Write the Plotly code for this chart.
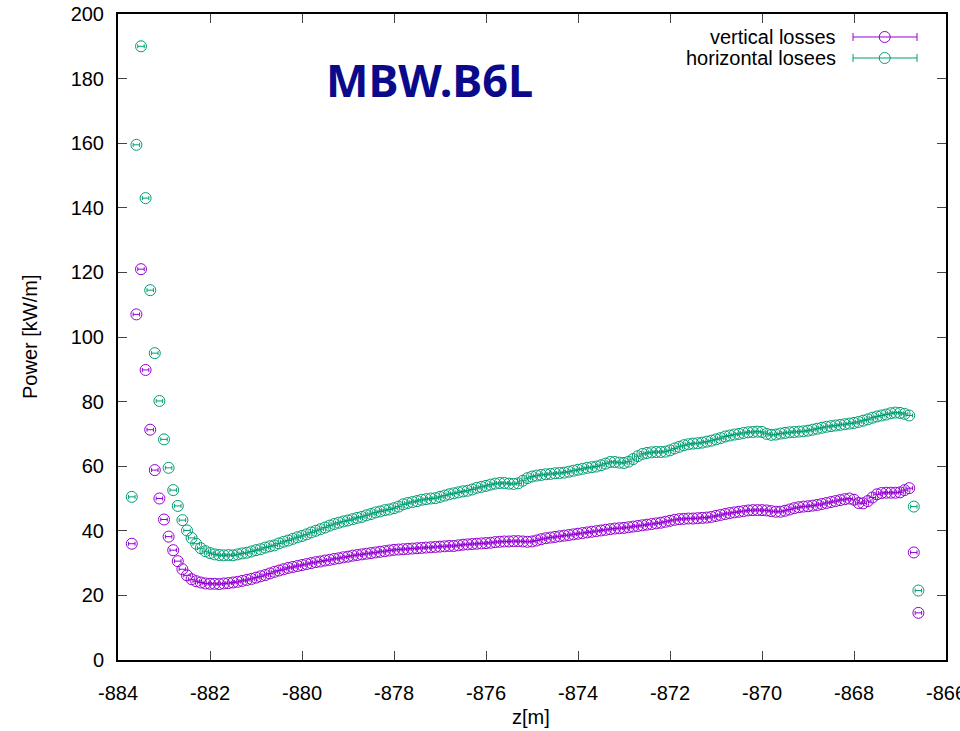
import plotly.graph_objects as go

# Longitudinal position along the beam line [m]
z = [
    -883.7, -883.6, -883.5, -883.4, -883.3, -883.2, -883.1, -883.0, -882.9, -882.8,
    -882.7, -882.6, -882.5, -882.4, -882.3, -882.2, -882.1, -882.0, -881.9, -881.8,
    -881.7, -881.6, -881.5, -881.4, -881.3, -881.2, -881.1, -881.0, -880.9, -880.8,
    -880.7, -880.6, -880.5, -880.4, -880.3, -880.2, -880.1, -880.0, -879.9, -879.8,
    -879.7, -879.6, -879.5, -879.4, -879.3, -879.2, -879.1, -879.0, -878.9, -878.8,
    -878.7, -878.6, -878.5, -878.4, -878.3, -878.2, -878.1, -878.0, -877.9, -877.8,
    -877.7, -877.6, -877.5, -877.4, -877.3, -877.2, -877.1, -877.0, -876.9, -876.8,
    -876.7, -876.6, -876.5, -876.4, -876.3, -876.2, -876.1, -876.0, -875.9, -875.8,
    -875.7, -875.6, -875.5, -875.4, -875.3, -875.2, -875.1, -875.0, -874.9, -874.8,
    -874.7, -874.6, -874.5, -874.4, -874.3, -874.2, -874.1, -874.0, -873.9, -873.8,
    -873.7, -873.6, -873.5, -873.4, -873.3, -873.2, -873.1, -873.0, -872.9, -872.8,
    -872.7, -872.6, -872.5, -872.4, -872.3, -872.2, -872.1, -872.0, -871.9, -871.8,
    -871.7, -871.6, -871.5, -871.4, -871.3, -871.2, -871.1, -871.0, -870.9, -870.8,
    -870.7, -870.6, -870.5, -870.4, -870.3, -870.2, -870.1, -870.0, -869.9, -869.8,
    -869.7, -869.6, -869.5, -869.4, -869.3, -869.2, -869.1, -869.0, -868.9, -868.8,
    -868.7, -868.6, -868.5, -868.4, -868.3, -868.2, -868.1, -868.0, -867.9, -867.8,
    -867.7, -867.6, -867.5, -867.4, -867.3, -867.2, -867.1, -867.0, -866.9, -866.8,
    -866.7, -866.6,
]

# Deposited power from vertical losses [kW/m]
vertical = [
    36.0, 107.0, 121.0, 89.8, 71.3, 58.8, 50.0, 43.5, 38.2, 34.0,
    30.6, 28.1, 26.2, 25.0, 24.4, 24.0, 23.7, 23.6, 23.6, 23.5,
    23.7, 23.8, 24.0, 24.2, 24.5, 24.8, 25.1, 25.5, 25.9, 26.3,
    26.8, 27.3, 27.7, 28.1, 28.5, 28.8, 29.1, 29.4, 29.7, 30.0,
    30.3, 30.5, 30.8, 31.0, 31.3, 31.5, 31.8, 32.0, 32.3, 32.5,
    32.7, 32.9, 33.1, 33.3, 33.5, 33.7, 33.9, 34.1, 34.2, 34.3,
    34.4, 34.5, 34.6, 34.7, 34.8, 34.9, 35.0, 35.1, 35.2, 35.3,
    35.3, 35.5, 35.7, 35.8, 35.9, 36.0, 36.1, 36.2, 36.3, 36.5,
    36.6, 36.7, 36.7, 36.8, 36.8, 36.7, 36.6, 36.7, 37.0, 37.4,
    37.7, 37.9, 38.1, 38.3, 38.5, 38.7, 38.9, 39.1, 39.3, 39.5,
    39.7, 39.9, 40.1, 40.3, 40.5, 40.7, 40.8, 40.9, 41.1, 41.3,
    41.5, 41.7, 41.9, 42.1, 42.3, 42.5, 42.8, 43.1, 43.4, 43.6,
    43.7, 43.8, 43.8, 43.9, 44.0, 44.1, 44.3, 44.6, 44.9, 45.2,
    45.5, 45.7, 45.9, 46.1, 46.3, 46.4, 46.4, 46.4, 46.3, 46.1,
    45.9, 45.9, 46.2, 46.6, 47.0, 47.3, 47.5, 47.6, 47.8, 48.0,
    48.3, 48.6, 48.9, 49.2, 49.5, 49.8, 50.0, 49.6, 48.6, 48.5,
    49.2, 50.3, 51.3, 51.7, 51.8, 51.8, 51.8, 51.9, 52.6, 53.2,
    33.3, 14.6,
]

# Deposited power from horizontal losses [kW/m]
horizontal = [
    50.5, 159.5, 190.0, 143.0, 114.5, 95.0, 80.2, 68.3, 59.5, 52.6,
    47.7, 43.3, 40.1, 37.8, 36.0, 34.6, 33.7, 33.1, 32.7, 32.5,
    32.4, 32.5, 32.4, 32.7, 33.0, 33.2, 33.6, 34.0, 34.3, 34.8,
    35.2, 35.5, 36.1, 36.6, 37.0, 37.5, 38.0, 38.4, 38.9, 39.5,
    40.0, 40.5, 41.0, 41.6, 42.1, 42.5, 42.9, 43.2, 43.6, 44.0,
    44.3, 44.8, 45.2, 45.7, 46.0, 46.4, 46.6, 47.0, 47.5, 48.2,
    48.6, 48.9, 49.2, 49.6, 49.8, 50.0, 50.1, 50.5, 50.9, 51.3,
    51.6, 51.9, 52.2, 52.4, 52.8, 53.3, 53.6, 53.9, 54.3, 54.6,
    54.8, 54.8, 54.6, 54.5, 54.7, 55.5, 56.3, 56.8, 57.1, 57.3,
    57.5, 57.6, 57.8, 57.9, 58.0, 58.3, 58.6, 58.9, 59.2, 59.5,
    59.7, 59.9, 60.3, 60.8, 61.3, 61.3, 61.1, 61.0, 61.4, 62.2,
    63.1, 63.8, 64.1, 64.3, 64.4, 64.4, 64.5, 64.9, 65.5, 66.0,
    66.5, 66.8, 67.0, 67.1, 67.3, 67.6, 67.9, 68.3, 68.7, 69.2,
    69.5, 69.8, 70.0, 70.3, 70.5, 70.6, 70.7, 70.6, 70.0, 69.7,
    69.8, 70.1, 70.3, 70.5, 70.6, 70.7, 70.8, 71.0, 71.3, 71.6,
    71.9, 72.2, 72.4, 72.6, 72.8, 73.0, 73.2, 73.4, 73.7, 74.1,
    74.5, 75.0, 75.4, 75.7, 76.0, 76.4, 76.6, 76.5, 76.2, 75.7,
    47.5, 21.5,
]

# Half-width of the longitudinal bins [m]
z_err = 0.07

# Axis tick positions and labels (plain hyphen minus, as gnuplot prints them)
x_ticks = [-884, -882, -880, -878, -876, -874, -872, -870, -868, -866]
x_tick_labels = ["-884", "-882", "-880", "-878", "-876", "-874", "-872", "-870", "-868", "-866"]
y_ticks = [0, 20, 40, 60, 80, 100, 120, 140, 160, 180, 200]

series = [
    ("vertical losses", vertical, "#9400d3"),
    ("horizontal losees", horizontal, "#009e73"),
]

FONT = "Liberation Sans, Arial, sans-serif"

fig = go.Figure()
for name, values, color in series:
    fig.add_trace(go.Scatter(
        x=z, y=values, mode="markers", name=name, showlegend=False,
        marker=dict(symbol="circle-open", size=11, color=color, line=dict(width=1, color=color)),
        error_x=dict(type="constant", value=z_err, color=color, thickness=1, width=2),
    ))

# gnuplot-style key: right-aligned text followed by an error-bar sample
shapes = []
annotations = []
key_rows = [0.9644, 0.9319]
for (name, values, color), ky in zip(series, key_rows):
    annotations.append(dict(
        x=0.8696, y=ky, xref="paper", yref="paper", text=name, showarrow=False,
        xanchor="right", yanchor="middle", font=dict(family=FONT, size=20, color="black"),
    ))
    shapes.append(dict(type="line", xref="paper", yref="paper", x0=0.8877, x1=0.965, y0=ky, y1=ky,
                       line=dict(color=color, width=1)))
    for kx in (0.8877, 0.965):
        shapes.append(dict(type="line", xref="paper", yref="paper", xsizemode="pixel", ysizemode="pixel",
                           xanchor=kx, yanchor=ky, x0=0, x1=0, y0=-4, y1=4,
                           line=dict(color=color, width=1)))
    shapes.append(dict(type="circle", xref="paper", yref="paper", xsizemode="pixel", ysizemode="pixel",
                       xanchor=0.926, yanchor=ky, x0=-5.5, x1=5.5, y0=-5.5, y1=5.5,
                       line=dict(color=color, width=1), fillcolor="rgba(0,0,0,0)"))

annotations += [
    dict(x=0.3768, y=0.898, xref="paper", yref="paper", text="<b>MBW.B6L</b>", showarrow=False,
         xanchor="center", yanchor="middle",
         font=dict(family="Noto Sans, Open Sans, sans-serif", size=45, color="#0a0a8a")),
    dict(x=-0.1063, y=0.5, xref="paper", yref="paper", text="Power [kW/m]", showarrow=False,
         textangle=-90, xanchor="center", yanchor="middle", font=dict(family=FONT, size=20, color="black")),
    dict(x=0.4988, y=-0.0882, xref="paper", yref="paper", text="z[m]", showarrow=False,
         xanchor="center", yanchor="middle", font=dict(family=FONT, size=20, color="black")),
]

axis_common = dict(
    showgrid=False, zeroline=False, showline=True, linecolor="black", linewidth=2,
    mirror="ticks", ticks="inside", ticklen=9, tickwidth=1, tickcolor="#444",
    tickfont=dict(family=FONT, size=20, color="black"),
    automargin=False, ticklabeloverflow="allow",
)

fig.update_layout(
    width=960, height=731,
    margin=dict(l=118, r=14, t=14, b=71),
    paper_bgcolor="white", plot_bgcolor="white",
    xaxis=dict(range=[-884, -866], tickmode="array", tickvals=x_ticks, ticktext=x_tick_labels,
               ticklabelstandoff=14, **axis_common),
    yaxis=dict(range=[0, 200], tickmode="array", tickvals=y_ticks,
               ticklabelstandoff=8, **axis_common),
    shapes=shapes, annotations=annotations,
)

fig.write_html("out.html")
